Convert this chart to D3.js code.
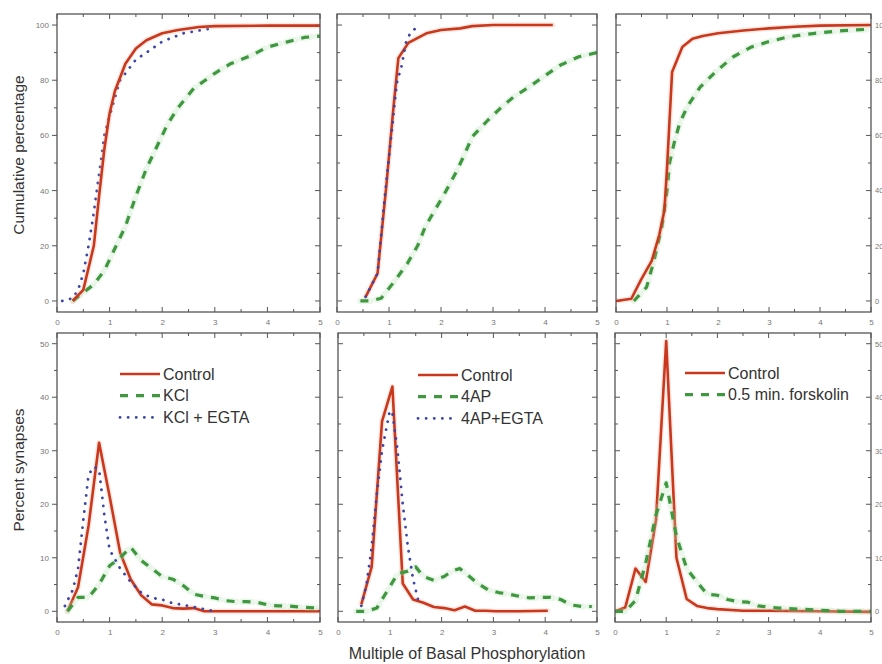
<!DOCTYPE html>
<html><head><meta charset="utf-8">
<script src="https://cdn.jsdelivr.net/npm/d3@7"></script>
<style>html,body{margin:0;padding:0;background:#fff;overflow:hidden}svg{display:block}</style>
</head><body>
<svg id="c" width="882" height="664"></svg>
<script>
// ---------- DATA ----------
// Top row: cumulative percentage
const cumKClCtrlX = [0.3,0.5,0.7,0.8,0.9,1.0,1.1,1.3,1.5,1.7,2.0,2.3,2.7,3.0,4.0,5.0];
const cumKClCtrlY = [0,4,20,38,55,68,76,86,91.5,94.5,97,98.2,99.3,99.6,99.8,99.8];
const cumKClX = [0.3,0.5,0.7,0.9,1.1,1.3,1.5,1.7,1.9,2.1,2.3,2.6,3.0,3.3,3.7,4.0,4.4,4.7,5.0];
const cumKClY = [0,3,6,11,19,27,38,48,56,64,70,77,82.5,86,89,92,94,95.5,96];
const cumKClEgtaX = [0.1,0.3,0.4,0.5,0.6,0.7,0.8,0.9,1.0,1.2,1.5,1.7,2.0,2.2,2.4,2.7,3.0];
const cumKClEgtaY = [0,1,4,10,20,32,46,60,67,80,87.5,90,94,95.5,97,98,99];

const cum4APCtrlX = [0.55,0.78,0.95,1.08,1.18,1.37,1.72,2.0,2.37,2.6,3.0,4.15];
const cum4APCtrlY = [1.5,10,42,69,88,93.5,97,98.2,98.8,99.6,100,100];
const cum4APX = [0.45,0.65,0.85,1.1,1.35,1.55,1.7,1.9,2.1,2.3,2.45,2.6,2.9,3.15,3.4,3.65,3.95,4.3,4.65,5.0];
const cum4APY = [0,0,1,7,13.5,20,27,33.5,40,47,53,59.5,65.5,70,74,77,81,85.5,88.5,90];
const cum4APEgtaX = [0.55,0.78,0.92,1.05,1.15,1.24,1.33,1.42,1.6];
const cum4APEgtaY = [1.5,10,38,61,79,85,94,97.5,100];

const cumFskCtrlX = [0,0.3,0.5,0.7,0.85,0.95,1.0,1.1,1.3,1.5,1.7,2.0,2.5,3.0,3.5,4.0,5.0];
const cumFskCtrlY = [0,0.8,8,14.5,24,33,48,83,92,95,96,97,98,98.8,99.4,99.8,100];
const cumFskX = [0.35,0.6,0.75,0.9,1.0,1.05,1.15,1.25,1.4,1.65,1.95,2.3,2.65,3.0,3.4,3.9,4.45,5.0];
const cumFskY = [0,5,15,27,40,50,58,64.5,70.5,77.5,83,88.5,92,94,95.8,97,98,98.5];

// Bottom row: percent synapses
const pctKClCtrlX = [0.2,0.4,0.6,0.8,1.0,1.2,1.4,1.6,1.8,2.0,2.2,2.4,2.6,2.8,3.0,5.0];
const pctKClCtrlY = [0,4.5,16,31.5,21.5,11,6,3,1.3,1.1,0.6,0.5,0.6,0,0,0];
const pctKClX = [0.2,0.4,0.6,0.8,1.0,1.2,1.4,1.6,1.8,2.0,2.2,2.4,2.6,2.8,3.0,3.2,3.4,3.6,3.8,4.0,4.2,4.4,4.6,4.8,5.0];
const pctKClY = [0,2.6,2.6,5,8.5,10,12,9.5,8,6.5,6,4.8,3.2,2.8,2.5,2,1.8,1.8,1.7,1.2,1,1,0.8,0.7,0.6];
const pctKClEgtaX = [0.15,0.3,0.4,0.5,0.6,0.7,0.8,0.9,1.0,1.2,1.4,1.6,1.8,2.0,2.2,2.4,2.6,2.8,3.0];
const pctKClEgtaY = [1,4,8,17,25.5,27,26.5,18,11.5,8,5.5,3.5,2.5,2.2,1.5,1.2,0.8,0.4,0];

const pct4APCtrlX = [0.45,0.65,0.85,1.05,1.25,1.45,1.65,1.85,2.05,2.25,2.45,2.65,2.85,3.05,3.5,4.05];
const pct4APCtrlY = [1.3,8.3,35.5,42,5.2,2.2,1.6,0.8,0.6,0.2,0.9,0.1,0.1,0,0,0.1];
const pct4APX = [0.35,0.55,0.75,0.95,1.15,1.35,1.5,1.65,1.85,2.05,2.2,2.35,2.5,2.7,2.9,3.1,3.3,3.5,3.7,3.9,4.1,4.3,4.5,4.7,4.9];
const pct4APY = [0,0,0.6,3.8,7,7.5,8.3,6.5,5.8,6.5,7.5,8,6.8,5.2,4,3.5,3.2,2.8,2.5,2.6,2.6,2.2,1.2,0.9,0.9];
const pct4APEgtaX = [0.45,0.55,0.65,0.75,0.85,0.95,1.0,1.05,1.15,1.25,1.35,1.45,1.55,1.6];
const pct4APEgtaY = [1,5,12,22,30,35,37.5,37,30,20,12,6,2,1];

const pctFskCtrlX = [0,0.2,0.4,0.6,0.8,1.0,1.2,1.4,1.6,1.8,2.0,2.5,3.0,4.0,5.0];
const pctFskCtrlY = [0,0.7,8,5.5,17,50.5,10,2.3,1,0.6,0.4,0.1,0.1,0,-0.1];
const pctFskX = [0,0.2,0.4,0.6,0.8,1.0,1.2,1.4,1.6,1.8,2.0,2.2,2.4,2.6,2.8,3.0,3.2,3.4,3.6,3.8,4.0,4.2,4.4,4.6,4.8,5.0];
const pctFskY = [0,0,2,9,18,24,14,8,5.5,3.2,3,2.2,1.8,1.7,1,0.8,0.6,0.5,0.4,0.3,0.2,0.1,0,0,0,0];

// Ticks & labels
const xTickValues = [0,1,2,3,4,5];
const cumTickValues = [0,20,40,60,80,100];
const pctTickValues = [0,10,20,30,40,50];
const legendKCl = ["Control","KCl","KCl + EGTA"];
const legend4AP = ["Control","4AP","4AP+EGTA"];
const legendFsk = ["Control","0.5 min. forskolin"];
const yTitleTop = "Cumulative percentage";
const yTitleBottom = "Percent synapses";
const xTitle = "Multiple of Basal Phosphorylation";

// ---------- DRAW ----------
const svg = d3.select("#c");
const tf = "Liberation Sans, Arial, sans-serif";
const styles = {
  ctrl: {color:"#c9381c", halo:"#f3a98e", w:2.6, dash:null, cap:"butt", haloOp:0.25},
  trt:  {color:"#3f973f", halo:"#b5e2b5", w:3.2, dash:"8,8", cap:"butt", haloOp:0.3},
  egta: {color:"#3c46a6", halo:null, w:2.8, dash:"0.1,8", cap:"round", haloOp:0}
};
const zip = (xs, ys) => xs.map((x,i)=>[x, ys[i]]);

function panel(opt){
  const x = d3.scaleLinear().domain([0,5]).range([opt.x0, opt.x1]);
  const y = d3.scaleLinear().domain(opt.yDom).range([opt.y1, opt.y0]);
  const g = svg.append("g");
  const minorX = d3.range(0.5, 5, 1);
  const ymaj = opt.yTicks, ystep = ymaj[1]-ymaj[0];
  const minorY = ymaj.slice(0,-1).map(v=>v+ystep/2);
  const tc = "#555";
  const bAx = d3.axisBottom(x).tickValues(xTickValues).tickSize(0).tickPadding(0).tickFormat(d3.format("d"));
  const bg = g.append("g").attr("transform",`translate(0,${opt.y1})`).call(bAx);
  bg.select(".domain").remove();
  bg.selectAll("text").attr("y",7).attr("dy","0.71em").attr("font-size",8).attr("fill","#777").attr("font-family",tf);
  [[xTickValues,5],[minorX,3]].forEach(([vals,len])=>{
    g.selectAll(null).data(vals).enter().append("line")
      .attr("x1",d=>x(d)).attr("x2",d=>x(d)).attr("y1",opt.y1).attr("y2",opt.y1-len)
      .attr("stroke",tc).attr("stroke-width",1);
    g.selectAll(null).data(vals).enter().append("line")
      .attr("x1",d=>x(d)).attr("x2",d=>x(d)).attr("y1",opt.y0).attr("y2",opt.y0+len)
      .attr("stroke",tc).attr("stroke-width",1);
  });
  [[ymaj,5],[minorY,3]].forEach(([vals,len])=>{
    const lOut = opt.leftLabels;
    g.selectAll(null).data(vals).enter().append("line")
      .attr("x1",opt.x0).attr("x2",lOut? opt.x0-len : opt.x0+len).attr("y1",d=>y(d)).attr("y2",d=>y(d))
      .attr("stroke",tc).attr("stroke-width",1);
    g.selectAll(null).data(vals).enter().append("line")
      .attr("x1",opt.x1).attr("x2",opt.x1-len).attr("y1",d=>y(d)).attr("y2",d=>y(d))
      .attr("stroke",tc).attr("stroke-width",1);
  });
  if (opt.leftLabels){
    const la = d3.axisLeft(y).tickValues(ymaj).tickSize(0).tickPadding(8);
    const lg = g.append("g").attr("transform",`translate(${opt.x0},0)`).call(la);
    lg.select(".domain").remove();
    lg.selectAll("text").attr("font-size",8).attr("fill","#777").attr("font-family",tf);
  }
  if (opt.rightLabels){
    const ra = d3.axisRight(y).tickValues(ymaj).tickSize(0).tickPadding(4);
    const rg = g.append("g").attr("transform",`translate(${opt.x1},0)`).call(ra);
    rg.select(".domain").remove();
    rg.selectAll("text").attr("font-size",7.5).attr("fill","#777").attr("font-family",tf);
  }
  const line = d3.line().x(d=>x(d[0])).y(d=>y(d[1]));
  const clipId = "clip"+opt.id;
  svg.append("clipPath").attr("id",clipId).append("rect")
    .attr("x",opt.x0).attr("y",opt.y0).attr("width",opt.x1-opt.x0).attr("height",opt.y1-opt.y0);
  const sg = g.append("g").attr("clip-path",`url(#${clipId})`);
  opt.series.forEach(s=>{
    const st = styles[s.kind];
    const pts = zip(s.xs, s.ys);
    if (st.halo){
      sg.append("path").attr("d",line(pts)).attr("fill","none")
        .attr("stroke",st.halo).attr("stroke-width",st.w+3).attr("stroke-opacity",st.haloOp)
        .attr("stroke-linejoin","round")
        .attr("stroke-dasharray", s.kind==="trt" ? "10,6" : null).attr("stroke-linecap","round");
    }
    sg.append("path").attr("d",line(pts)).attr("fill","none")
      .attr("stroke",st.color).attr("stroke-width",st.w)
      .attr("stroke-dasharray",st.dash).attr("stroke-linecap",st.cap).attr("stroke-linejoin","round");
  });
  g.append("rect").attr("x",opt.x0).attr("y",opt.y0).attr("width",opt.x1-opt.x0).attr("height",opt.y1-opt.y0)
    .attr("fill","none").attr("stroke","#555").attr("stroke-width",1.3);
  if (opt.legend){
    const lg = g.append("g");
    opt.legend.names.forEach((n,i)=>{
      const st = styles[opt.series[i].kind];
      const yy = opt.legend.y + i*21.7;
      lg.append("line").attr("x1",opt.legend.x).attr("x2",opt.legend.x+40).attr("y1",yy).attr("y2",yy)
        .attr("stroke",st.color).attr("stroke-width",st.w).attr("stroke-dasharray",st.dash).attr("stroke-linecap",st.cap);
      lg.append("text").attr("x",opt.legend.x+43).attr("y",yy).attr("dy","0.35em")
        .attr("font-size",16).attr("fill","#333").attr("font-family",tf).text(n);
    });
  }
}

const topY = {y0:14, y1:312, yDom:[-4,104], yTicks:cumTickValues};
const botY = {y0:333, y1:622, yDom:[-2,52], yTicks:pctTickValues};

panel(Object.assign({id:1, x0:57, x1:320, leftLabels:true,
  series:[{kind:"trt",xs:cumKClX,ys:cumKClY},{kind:"egta",xs:cumKClEgtaX,ys:cumKClEgtaY},{kind:"ctrl",xs:cumKClCtrlX,ys:cumKClCtrlY}]}, topY));
panel(Object.assign({id:2, x0:337, x1:597,
  series:[{kind:"trt",xs:cum4APX,ys:cum4APY},{kind:"ctrl",xs:cum4APCtrlX,ys:cum4APCtrlY},{kind:"egta",xs:cum4APEgtaX,ys:cum4APEgtaY}]}, topY));
panel(Object.assign({id:3, x0:616, x1:871, rightLabels:true,
  series:[{kind:"trt",xs:cumFskX,ys:cumFskY},{kind:"ctrl",xs:cumFskCtrlX,ys:cumFskCtrlY}]}, topY));

panel(Object.assign({id:4, x0:57, x1:320, leftLabels:true,
  legend:{names:legendKCl, x:120, y:374},
  series:[{kind:"ctrl",xs:pctKClCtrlX,ys:pctKClCtrlY},{kind:"trt",xs:pctKClX,ys:pctKClY},{kind:"egta",xs:pctKClEgtaX,ys:pctKClEgtaY}]}, botY));
panel(Object.assign({id:5, x0:338, x1:597,
  legend:{names:legend4AP, x:418, y:375},
  series:[{kind:"ctrl",xs:pct4APCtrlX,ys:pct4APCtrlY},{kind:"trt",xs:pct4APX,ys:pct4APY},{kind:"egta",xs:pct4APEgtaX,ys:pct4APEgtaY}]}, botY));
panel(Object.assign({id:6, x0:615, x1:871, rightLabels:true,
  legend:{names:legendFsk, x:685, y:373},
  series:[{kind:"ctrl",xs:pctFskCtrlX,ys:pctFskCtrlY},{kind:"trt",xs:pctFskX,ys:pctFskY}]}, botY));

svg.append("text").attr("transform","translate(24,155) rotate(-90)").attr("text-anchor","middle")
  .attr("font-size",15.5).attr("fill","#333").attr("font-family",tf).text(yTitleTop);
svg.append("text").attr("transform","translate(24,470) rotate(-90)").attr("text-anchor","middle")
  .attr("font-size",15.5).attr("fill","#333").attr("font-family",tf).text(yTitleBottom);
svg.append("text").attr("x",467).attr("y",659).attr("text-anchor","middle")
  .attr("font-size",16).attr("fill","#333").attr("font-family",tf).text(xTitle);
</script>
</body></html>
